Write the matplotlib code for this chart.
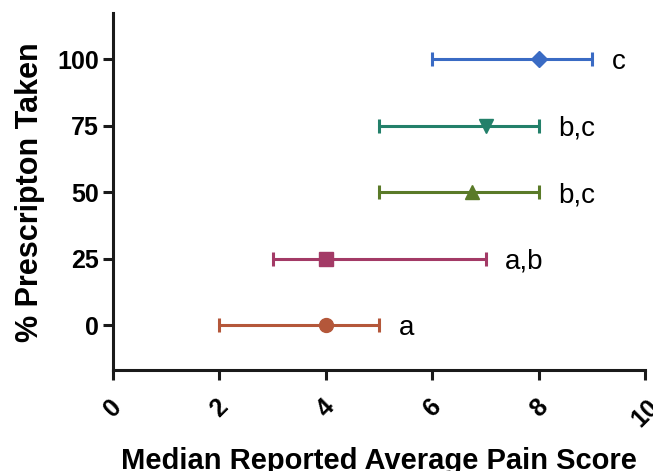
import matplotlib
matplotlib.use("Agg")
import matplotlib.pyplot as plt

plt.rcParams['font.family'] = ['Liberation Sans', 'DejaVu Sans']

# data
pct_taken = [0, 25, 50, 75, 100]
median_pain = [4, 4, 6.75, 7, 8]
pain_low = [2, 3, 5, 5, 6]
pain_high = [5, 7, 8, 8, 9]
sig_letters = ['a', 'a,b', 'b,c', 'b,c', 'c']

colors = ['#b4573a', '#a33a66', '#5a7a28', '#23806a', '#3a6bc4']
markers = ['o', 's', '^', 'v', 'D']
msizes = [10, 10, 10, 10, 8]

fig = plt.figure(figsize=(6.53, 4.71), dpi=100)
ax = fig.add_axes([0.173, 0.214, 0.815, 0.758])

for y, m, lo, hi, lab, c, mk, ms in zip(pct_taken, median_pain, pain_low,
                                         pain_high, sig_letters, colors,
                                         markers, msizes):
    ax.errorbar(m, y, xerr=[[m - lo], [hi - m]], fmt=mk, color=c, ms=ms,
                elinewidth=2.2, capsize=5, capthick=2.2, mec=c)
    ax.annotate(lab, (hi, y), xytext=(14, -2), textcoords='offset points',
                va='center', ha='left', fontsize=20)

ax.set_xlim(0, 10)
ax.set_ylim(-16.9, 117.3)
ax.set_xticks([0, 2, 4, 6, 8, 10])
ax.set_yticks([0, 25, 50, 75, 100])

for s in ['top', 'right']:
    ax.spines[s].set_visible(False)
for s in ['left', 'bottom']:
    ax.spines[s].set_linewidth(2.2)
    ax.spines[s].set_color('#1a1a1a')

ax.tick_params(axis='both', width=2.2, length=7, color='#1a1a1a',
               labelsize=18)
ax.tick_params(axis='x', pad=11)
ax.tick_params(axis='y', pad=3)
for t in ax.get_xticklabels():
    t.set_rotation(45)
    t.set_ha('center')
    t.set_fontweight('bold')
for t in ax.get_yticklabels():
    t.set_fontweight('bold')

ax.set_xlabel('Median Reported Average Pain Score', fontsize=21,
              fontweight='bold', labelpad=11)
ax.set_ylabel('% Prescripton Taken', fontsize=22, fontweight='bold',
              labelpad=9)

fig.savefig('out.png', dpi=100)
